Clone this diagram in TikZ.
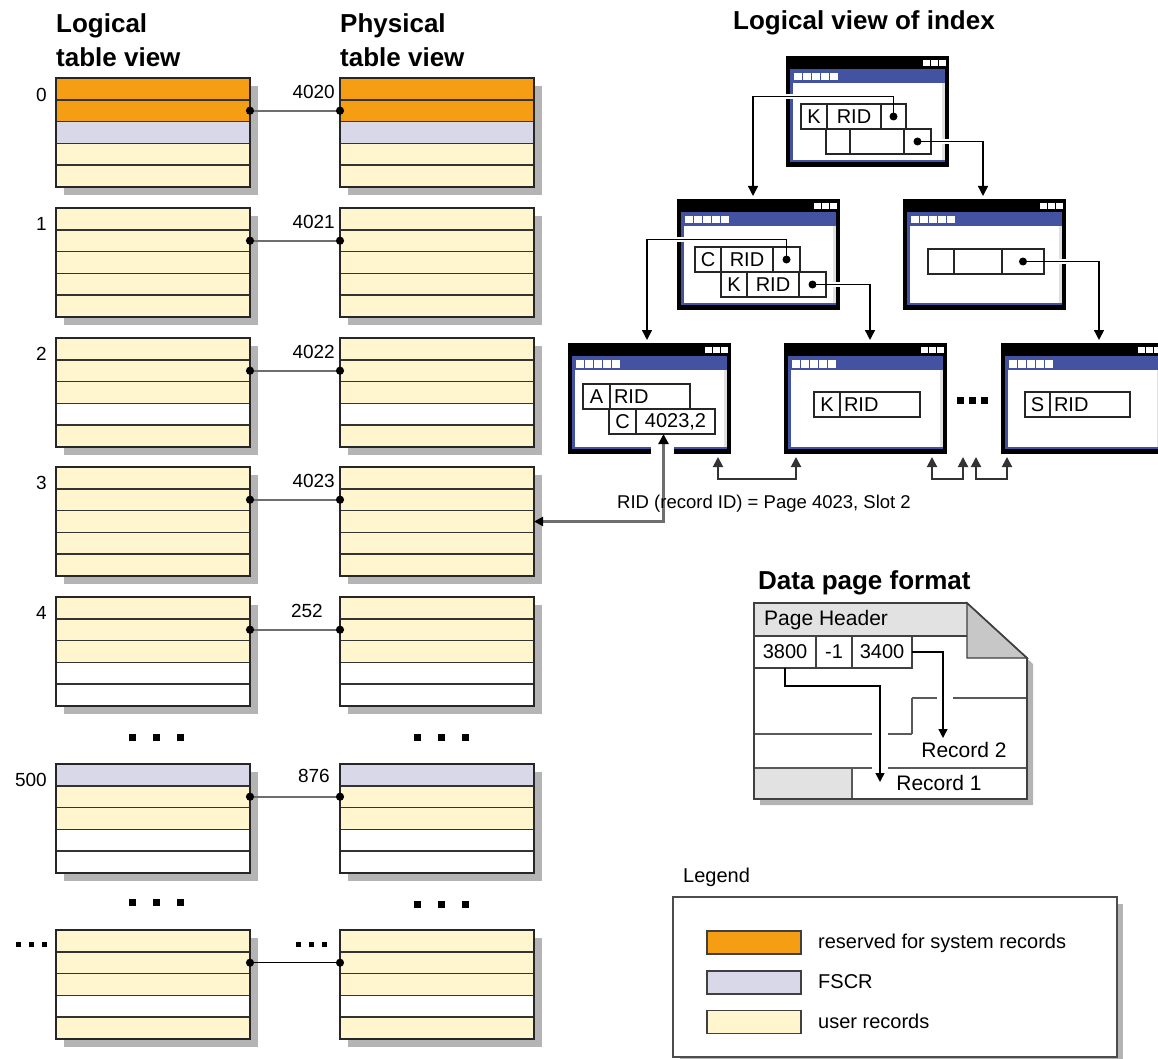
\documentclass[tikz,border=0pt]{standalone}
\usepackage{fontspec}
\setmainfont{Liberation Sans}
\usetikzlibrary{arrows.meta}
\definecolor{sysorange}{HTML}{F59E14}
\definecolor{fscr}{HTML}{D8D8E8}
\definecolor{usery}{HTML}{FFF6D0}
\definecolor{winblue}{HTML}{4452A2}
\definecolor{shadowg}{HTML}{B4B4B4}
\definecolor{hdrg}{HTML}{E2E2E2}
\definecolor{linkg}{HTML}{6E6E6E}
\pgfdeclarelayer{bg}
\pgfdeclarelayer{halo}
\pgfsetlayers{bg,halo,main}
\tikzset{
 row/.style={draw=black!80, line width=1.5pt, minimum width=194pt, minimum height=21.8pt, inner sep=0pt, outer sep=0pt, anchor=north west},
 numlbl/.style={font=\fontsize{19}{22}\selectfont, anchor=east, inner sep=0pt},
 titletxt/.style={font=\fontsize{26}{30}\selectfont\bfseries, anchor=base west, inner sep=0pt},
 plaintxt/.style={font=\fontsize{20}{24}\selectfont, inner sep=0pt},
 link/.style={draw=linkg, line width=2.2pt, {Circle[length=8pt,width=8pt,color=black]}-{Circle[length=8pt,width=8pt,color=black]}, shorten <=-4pt, shorten >=-4pt},
 winnode/.style={rectangle, fill=black, minimum width=163pt, minimum height=111pt, inner sep=0pt, outer sep=0pt, anchor=north west},
 cell/.style={draw=black!85, fill=white, line width=1.3pt, minimum height=25pt, inner sep=0pt, outer sep=0pt, anchor=north west, font=\fontsize{20}{24}\selectfont},
 tree/.style={draw=black, line width=1.4pt, -{Triangle[length=10pt,width=10pt]}},
 sib/.style={draw=black!80, line width=2pt, {Triangle[length=10pt,width=10pt]}-{Triangle[length=10pt,width=10pt]}},
 ridarrow/.style={draw=linkg, line width=2.2pt, {Triangle[length=9pt,width=9pt,color=black]}-{Triangle[length=10pt,width=10pt,color=black]}},
 pageline/.style={draw=black!75, line width=1.4pt},
 pcell/.style={draw=black!75, fill=white, line width=1.4pt, minimum height=32pt, inner sep=0pt, outer sep=0pt, anchor=north west, font=\fontsize{20}{24}\selectfont},
 parrow/.style={draw=black, line width=1.4pt, -{Triangle[length=9pt,width=9pt]}},
 swatch/.style={draw=black!75, line width=1.6pt, minimum width=94pt, minimum height=23pt, inner sep=0pt, outer sep=0pt},
}
\newcommand\drawtable[4]{%
  \fill[shadowg] (#2+8,#3+8) rectangle (#2+202,#3+117);
  \foreach \c [count=\i] in {#4} {
    \node[row, fill=\c] (#1-\i) at (#2,{#3+(\i-1)*21.8}) {};
  }
  \draw[line width=2pt, black!85] (#1-1.north west) rectangle (#1-5.south east);
}
\newcommand\drawwin[3]{%
 \begin{pgfonlayer}{bg}
 \node[winnode] (#1) at (#2,#3) {};
 \fill[winblue] ([shift={(4,13)}]#1.north west) rectangle ([shift={(-4,-5)}]#1.south east);
 \fill[white] ([shift={(7,27)}]#1.north west) rectangle ([shift={(-4,-7)}]#1.south east);
 \fill[black!12] ([shift={(-7,27)}]#1.north east) rectangle ([shift={(-4,-7)}]#1.south east);
 \foreach \k in {0,...,4}{\fill[white] ([shift={(8+9*\k,17)}]#1.north west) rectangle ++(7.5,7.5);}
 \foreach \k in {0,1,2}{\fill[white] ([shift={(-26+8*\k,4)}]#1.north east) rectangle ++(6.5,6);}
 \end{pgfonlayer}
}
\newcommand\treeline[1]{%
 \begin{pgfonlayer}{halo}\draw[white,line width=5pt] #1;\end{pgfonlayer}
 \draw[tree] #1;}
\begin{document}
\begin{tikzpicture}[x=1pt,y=-1pt]
\useasboundingbox (0,0) rectangle (1158,1059);

% ---------- titles ----------
\node[titletxt] (tl1) at (56,33) {Logical};
\node[titletxt] (tl2) at (56,67) {table view};
\node[titletxt] (tp1) at (340,33) {Physical};
\node[titletxt] (tp2) at (340,67) {table view};
\node[titletxt] (ti) at (733,30) {Logical view of index};
\node[titletxt] (td) at (758,589) {Data page format};

% ---------- tables ----------
\drawtable{L0}{56}{78}{sysorange,sysorange,fscr,usery,usery}
\drawtable{P0}{340}{78}{sysorange,sysorange,fscr,usery,usery}
\drawtable{L1}{56}{208}{usery,usery,usery,usery,usery}
\drawtable{P1}{340}{208}{usery,usery,usery,usery,usery}
\drawtable{L2}{56}{338}{usery,usery,usery,white,usery}
\drawtable{P2}{340}{338}{usery,usery,usery,white,usery}
\drawtable{L3}{56}{467}{usery,usery,usery,usery,usery}
\drawtable{P3}{340}{467}{usery,usery,usery,usery,usery}
\drawtable{L4}{56}{597}{usery,usery,usery,white,white}
\drawtable{P4}{340}{597}{usery,usery,usery,white,white}
\drawtable{L5}{56}{764}{fscr,usery,usery,white,white}
\drawtable{P5}{340}{764}{fscr,usery,usery,white,white}
\drawtable{L6}{56}{930}{usery,usery,usery,white,usery}
\drawtable{P6}{340}{930}{usery,usery,usery,white,usery}

\node[numlbl] (n0) at (47,95) {0};
\node[numlbl] (n1) at (47,224) {1};
\node[numlbl] (n2) at (47,354) {2};
\node[numlbl] (n3) at (47,483) {3};
\node[numlbl] (n4) at (47,613) {4};
\node[numlbl] (n5) at (47,780) {500};
\node[numlbl] (m0) at (335,92) {4020};
\node[numlbl] (m1) at (335,222) {4021};
\node[numlbl] (m2) at (335,352) {4022};
\node[numlbl] (m3) at (335,481) {4023};
\node[numlbl] (m4) at (323,611) {252};
\node[numlbl] (m5) at (330,776) {876};

\draw[link] (L0-2.east) -- (P0-2.west);
\draw[link] (L1-2.east) -- (P1-2.west);
\draw[link] (L2-2.east) -- (P2-2.west);
\draw[link] (L3-2.east) -- (P3-2.west);
\draw[link] (L4-2.east) -- (P4-2.west);
\draw[link] (L5-2.east) -- (P5-2.west);
\draw[link, draw=black, line width=1.4pt] (L6-2.east) -- (P6-2.west);

% ellipsis marks
\foreach \xx in {132,156,180,417,441,465}{\fill (\xx-3.5,733.5) rectangle ++(7,7);}
\foreach \xx in {132,156,180}{\fill (\xx-3.5,898.5) rectangle ++(7,7);}
\foreach \xx in {417,441,465}{\fill (\xx-3.5,900.5) rectangle ++(7,7);}
\foreach \xx in {18,31,44,298,311,324}{\fill (\xx-2.5,941.5) rectangle ++(5,5);}

% ---------- index windows ----------
\drawwin{root}{786}{56}
\drawwin{ml}{677}{199}
\drawwin{mr}{903}{199}
\drawwin{la}{568}{343}
\drawwin{lk}{784}{343}
\drawwin{ls}{1001}{343}

% root cells
\node[cell, minimum width=26pt] (rk) at (801,104) {K};
\node[cell, minimum width=54pt] (rrid) at (rk.north east) {RID};
\node[cell, minimum width=25pt] (rp1) at (rrid.north east) {};
\node[cell, minimum width=24pt] (r2a) at (826,129) {};
\node[cell, minimum width=54pt] (r2b) at (r2a.north east) {};
\node[cell, minimum width=27pt] (rp2) at (r2b.north east) {};
\fill (rp1.center) circle (4pt);
\fill (rp2.center) circle (4pt);

% mid-left cells
\node[cell, minimum width=26pt] (mc) at (695,247) {C};
\node[cell, minimum width=52pt] (mcrid) at (mc.north east) {RID};
\node[cell, minimum width=27pt] (mp1) at (mcrid.north east) {};
\node[cell, minimum width=26pt] (mk) at (721,272) {K};
\node[cell, minimum width=52pt] (mkrid) at (mk.north east) {RID};
\node[cell, minimum width=27pt] (mp2) at (mkrid.north east) {};
\fill (mp1.center) circle (4pt);
\fill (mp2.center) circle (4pt);

% mid-right cells
\node[cell, minimum width=26pt] (ra) at (928,249) {};
\node[cell, minimum width=48pt] (rb) at (ra.north east) {};
\node[cell, minimum width=42pt] (mrp) at (rb.north east) {};
\fill (mrp.center) circle (4pt);

% leaf A cells
\node[cell, minimum width=27pt] (ca) at (583,384) {A};
\node[cell, text width=72pt, align=left, inner xsep=4pt] (carid) at (ca.north east) {RID};
\node[cell, minimum width=27pt] (cc) at (609,409) {C};
\node[cell, minimum width=79pt] (ca2) at (cc.north east) {4023,2};

% leaf K / S cells
\node[cell, minimum width=26pt] (kk) at (814,392) {K};
\node[cell, text width=72pt, align=left, inner xsep=4pt] (kkrid) at (kk.north east) {RID};
\node[cell, minimum width=25pt] (ss) at (1025,392) {S};
\node[cell, text width=72pt, align=left, inner xsep=4pt] (ssrid) at (ss.north east) {RID};

\foreach \xx in {960,972,984}{\fill (\xx-3.5,396.5) rectangle ++(7,7);}

% tree connectors
\treeline{(rp1.center) -- ++(0,-20) -| ([shift={(76,-3)}]ml.north west)}
\treeline{(rp2.center) -| ([shift={(80,-3)}]mr.north west)}
\treeline{(mp1.center) -- ++(0,-20) -| ([shift={(79,-3)}]la.north west)}
\treeline{(mp2.center) -| ([shift={(86,-3)}]lk.north west)}
\treeline{(mrp.center) -| ([shift={(98,-3)}]ls.north west)}

% sibling links
\coordinate (e1) at (963,457);
\coordinate (e2) at (976,457);
\draw[sib] ([shift={(150,3)}]la.south west) -- ++(0,22) -| ([shift={(12,3)}]lk.south west);
\draw[sib] ([shift={(148,3)}]lk.south west) -- ++(0,22) -| (e1);
\draw[sib] (e2) -- ++(0,22) -| ([shift={(6,3)}]ls.south west);

% RID pointer
\begin{pgfonlayer}{halo}\fill[white] (651,447) rectangle (674,456);\end{pgfonlayer}
\draw[ridarrow] (P3-3.east) -| ([xshift=-12pt]ca2.south);
\node[font=\fontsize{18.5}{21}\selectfont, inner sep=0pt] (ridlbl) at (764,504) {RID (record ID) = Page 4023, Slot 2};

% ---------- data page ----------
\fill[shadowg] (760,609) -- (973,609) -- (1033,664) -- (1033,805) -- (760,805) -- cycle;
\fill[white] (754,603) -- (967,603) -- (1027,658) -- (1027,799) -- (754,799) -- cycle;
\fill[hdrg] (754,603) rectangle (967,636);
\fill[hdrg] (755,768) rectangle (852,799);
\draw[pageline, fill=black!22] (967,603) -- (967,658) -- (1027,658) -- cycle;
\draw[pageline] (754,636) -- (967,636);
\node[pcell, minimum width=62pt] (c3800) at (754,636) {3800};
\node[pcell, minimum width=36pt] (cm1) at (c3800.north east) {-1};
\node[pcell, minimum width=60pt] (c3400) at (cm1.north east) {3400};
\node[font=\fontsize{21}{24}\selectfont, anchor=west, inner sep=0pt] (phdr) at (764,620) {Page Header};
\draw[pageline, black!65] (912,698) -- (937,698) (953,698) -- (1027,698);
\draw[pageline, black!65] (912,698) -- (912,734);
\draw[pageline, black!65] (888,734) -- (912,734) (755,734) -- (872,734);
\draw[pageline, black!65] (755,768) -- (872,768) (888,768) -- (1027,768);
\draw[pageline, black!65] (852,768) -- (852,799);
\draw[pageline, line width=1.6pt] (754,603) -- (967,603) -- (1027,658) -- (1027,799) -- (754,799) -- cycle;
\node[font=\fontsize{21}{24}\selectfont, inner sep=0pt] (rec2) at (964,750) {Record 2};
\node[font=\fontsize{21}{24}\selectfont, inner sep=0pt] (rec1) at (939,783) {Record 1};
\coordinate (t1) at (880,782);
\coordinate (t2) at (943,738);
\draw[parrow] (c3800.south) -- ++(0,18) -| (t1);
\draw[parrow] (c3400.east) -- ++(31,0) -| (t2);

% ---------- legend ----------
\node[plaintxt, anchor=west] (legt) at (683,877) {Legend};
\fill[shadowg] (680,904) rectangle (1123,1064);
\draw[line width=1.5pt, draw=black!70, fill=white] (673,897) rectangle (1117,1057);
\node[swatch, fill=sysorange] (sw1) at (754,942.5) {};
\node[swatch, fill=fscr] (sw2) at (754,982.5) {};
\node[swatch, fill=usery] (sw3) at (754,1022) {};
\node[plaintxt, anchor=west] (lg1) at (818,943) {reserved for system records};
\node[plaintxt, anchor=west] (lg2) at (818,982) {FSCR};
\node[plaintxt, anchor=west] (lg3) at (818,1021) {user records};
\end{tikzpicture}
\end{document}
